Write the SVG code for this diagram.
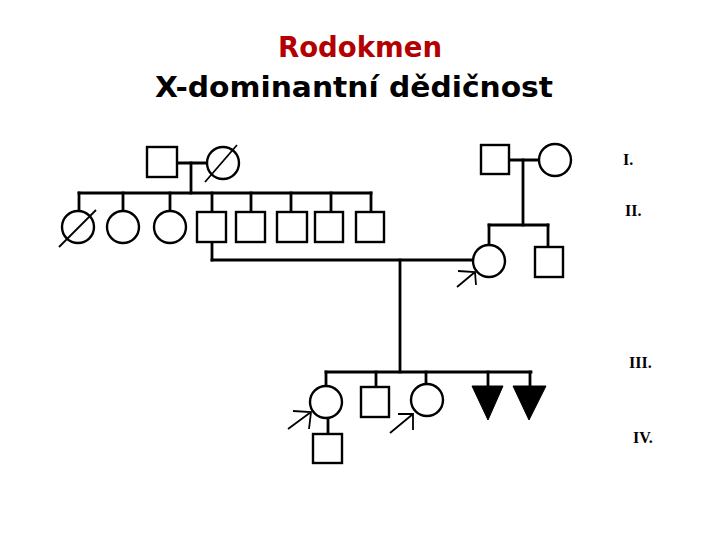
<svg xmlns="http://www.w3.org/2000/svg" width="720" height="540" viewBox="0 0 720 540">
<style>
.ln{stroke:#000;stroke-width:2.8;fill:none;stroke-linecap:square}
.sh{stroke:#000;stroke-width:2.4;fill:#fff}
.dg{stroke:#000;stroke-width:1.8;fill:none}
.ar{stroke:#000;stroke-width:1.8;fill:none}
.tri{fill:#000;stroke:#000;stroke-width:1}
.title{font-family:"DejaVu Sans","Liberation Sans",sans-serif;font-size:28px;font-weight:bold;text-anchor:start}
.gen{font-family:"Liberation Serif","DejaVu Serif",serif;font-weight:bold;font-size:16px}
</style>
<rect width="720" height="540" fill="#fff"/>
<text class="title" x="278" y="57" fill="#b30000" textLength="164" lengthAdjust="spacingAndGlyphs">Rodokmen</text>
<text class="title" x="155" y="97" fill="#000" textLength="398" lengthAdjust="spacingAndGlyphs">X-dominantní dědičnost</text>
<g id="connectors">
<line class="ln" x1="177" y1="163" x2="207" y2="163"/>
<line class="ln" x1="191" y1="163" x2="191" y2="193"/>
<line class="ln" x1="79" y1="193" x2="371" y2="193"/>
<line class="ln" x1="79" y1="193" x2="79" y2="211"/>
<line class="ln" x1="123" y1="193" x2="123" y2="211"/>
<line class="ln" x1="170" y1="193" x2="170" y2="211"/>
<line class="ln" x1="212" y1="193" x2="212" y2="212"/>
<line class="ln" x1="251" y1="193" x2="251" y2="212"/>
<line class="ln" x1="291" y1="193" x2="291" y2="212"/>
<line class="ln" x1="331" y1="193" x2="331" y2="212"/>
<line class="ln" x1="371" y1="193" x2="371" y2="212"/>
<line class="ln" x1="509" y1="160" x2="539" y2="160"/>
<line class="ln" x1="523" y1="160" x2="523" y2="225"/>
<line class="ln" x1="489" y1="225" x2="548" y2="225"/>
<line class="ln" x1="489" y1="225" x2="489" y2="245"/>
<line class="ln" x1="548" y1="225" x2="548" y2="247"/>
<line class="ln" x1="212" y1="242" x2="212" y2="260"/>
<line class="ln" x1="212" y1="260" x2="472" y2="260"/>
<line class="ln" x1="400" y1="260" x2="400" y2="372"/>
<line class="ln" x1="326" y1="372" x2="531" y2="372"/>
<line class="ln" x1="326" y1="372" x2="326" y2="386"/>
<line class="ln" x1="376" y1="372" x2="376" y2="387"/>
<line class="ln" x1="426" y1="372" x2="426" y2="384"/>
<line class="ln" x1="488" y1="372" x2="488" y2="386"/>
<line class="ln" x1="530" y1="372" x2="530" y2="386"/>
<line class="ln" x1="328" y1="418" x2="328" y2="434"/>
</g>
<g id="I-1"><rect class="sh" x="147" y="147" width="30" height="30"/></g>
<g id="I-2"><circle class="sh" cx="223" cy="163" r="16"/><line class="dg" x1="205" y1="182" x2="237" y2="145"/></g>
<g id="I-3"><rect class="sh" x="481" y="145" width="28" height="29"/></g>
<g id="I-4"><circle class="sh" cx="555" cy="160" r="16"/></g>
<g id="II-1"><circle class="sh" cx="78" cy="227" r="16"/><line class="dg" x1="59" y1="247" x2="96" y2="210"/></g>
<g id="II-2"><circle class="sh" cx="123" cy="227" r="16"/></g>
<g id="II-3"><circle class="sh" cx="170" cy="227" r="16"/></g>
<g id="II-4"><rect class="sh" x="197" y="212" width="29" height="30"/></g>
<g id="II-5"><rect class="sh" x="236" y="212" width="29" height="30"/></g>
<g id="II-6"><rect class="sh" x="277" y="212" width="30" height="30"/></g>
<g id="II-7"><rect class="sh" x="315" y="212" width="28" height="30"/></g>
<g id="II-8"><rect class="sh" x="356" y="212" width="28" height="30"/></g>
<g id="II-9"><circle class="sh" cx="489" cy="261" r="16"/>
<path class="ar" d="M457 287 L475 272 M458 271 L475 272 L476 285"/></g>
<g id="II-10"><rect class="sh" x="535" y="247" width="28" height="30"/></g>
<g id="III-1"><circle class="sh" cx="326" cy="402" r="16"/>
<path class="ar" d="M288 429 L311 412 M293 411 L311 412 L309 429"/></g>
<g id="III-2"><rect class="sh" x="361" y="387" width="28" height="30"/></g>
<g id="III-3"><circle class="sh" cx="427" cy="400" r="16"/>
<path class="ar" d="M390 433 L413 414 M398 414 L413 414 L413 430"/></g>
<g id="III-4"><polygon class="tri" points="472,386 503,386 488,420"/></g>
<g id="III-5"><polygon class="tri" points="513,386 546,386 529,420"/></g>
<g id="IV-1"><rect class="sh" x="313" y="434" width="29" height="29"/></g>
<g id="labels">
<text class="gen" x="623" y="165">I.</text>
<text class="gen" x="625" y="216">II.</text>
<text class="gen" x="629" y="368">III.</text>
<text class="gen" x="633" y="443">IV.</text>
</g>
</svg>
